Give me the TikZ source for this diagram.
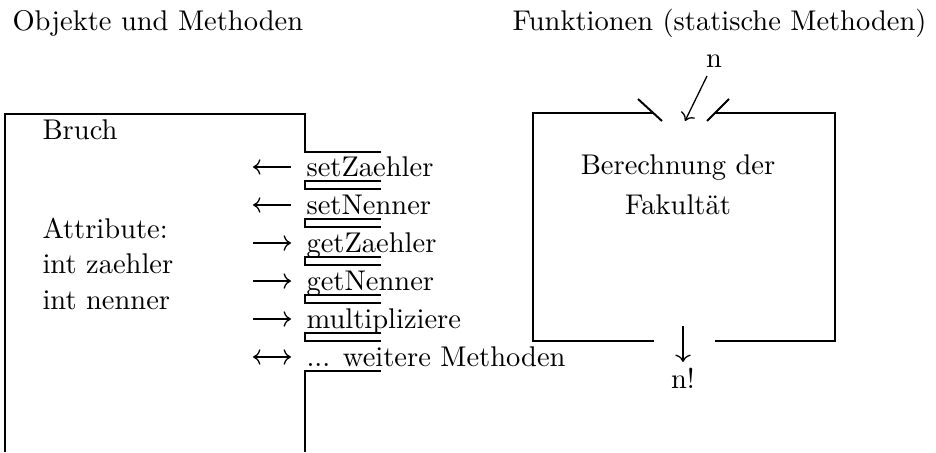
\documentclass[tikz,border=0pt]{standalone}
\usetikzlibrary{arrows.meta}
\begin{document}
\begin{tikzpicture}[x=0.3509pt, y=-0.3509pt,
  wall/.style={line width=0.7pt},
  arr/.style={line width=0.45pt},
  toleft/.style={{Computer Modern Rightarrow}-},
  toright/.style={-{Computer Modern Rightarrow}},
  twoway/.style={{Computer Modern Rightarrow}-{Computer Modern Rightarrow}},
  lbl/.style={anchor=base west, inner sep=0pt},
  cbl/.style={anchor=base, inner sep=0pt}]
\useasboundingbox (0,0) rectangle (936,452);

% headings
\node[lbl] (titleL) at (12,30) {Objekte und Methoden};
\node[lbl] (titleR) at (512,30) {Funktionen (statische Methoden)};

% object with its attributes
\node[lbl] (bruch) at (42,139) {Bruch};
\node[lbl] (attr)  at (42,238) {Attribute:};
\node[lbl] (zae)   at (42,273.5) {int zaehler};
\node[lbl] (nen)   at (42,309) {int nenner};

% outer wall of the object, open to the right with slots for the methods
\draw[wall] (5,452) -- (5,114) -- (305,114) -- (305,152) -- (381,152);
\foreach \k in {0,1,2,3,4}
  \draw[wall] (381,181+38*\k) -- (305,181+38*\k) -- (305,189+38*\k) -- (381,189+38*\k);
\draw[wall] (381,371) -- (305,371) -- (305,452);

% methods and their message directions
\foreach \i/\txt/\dir [evaluate=\i as \yb using 176+38*(\i-1)] in
  {1/setZaehler/toleft, 2/setNenner/toleft, 3/getZaehler/toright,
   4/getNenner/toright, 5/multipliziere/toright}
{
  \node[lbl] (m\i) at (306,\yb) {\txt};
  \coordinate (p\i) at (253,\yb-9);
  \coordinate (q\i) at (291,\yb-9);
  \draw[arr,\dir] (p\i) -- (q\i);
}
\node[lbl] (m6) at (306,366) {... weitere Methoden};
\coordinate (p6) at (253,357);
\coordinate (q6) at (291,357);
\draw[arr,twoway] (p6) -- (q6);

% function box with input funnel and output gap
\draw[wall] (653.5,113) -- (533,113) -- (533,341) -- (653.5,341);
\draw[wall] (714.5,113) -- (835,113) -- (835,341) -- (714.5,341);
\draw[wall] (638,99) -- (662,121);
\draw[wall] (729,99) -- (707,121);

\node[cbl] (ber) at (678,174) {Berechnung der};
\node[cbl] (fak) at (678,214) {Fakultät};

% input n and result n!
\node[cbl] (nin) at (714,67) {n};
\coordinate (nfrom) at (707,76);
\coordinate (nto) at (685,121);
\draw[arr,toright] (nfrom) -- (nto);

\coordinate (rfrom) at (683,326);
\coordinate (rto) at (683,362);
\draw[arr,toright] (rfrom) -- (rto);
\node[cbl] (nfac) at (683,388) {n!};
\end{tikzpicture}
\end{document}
